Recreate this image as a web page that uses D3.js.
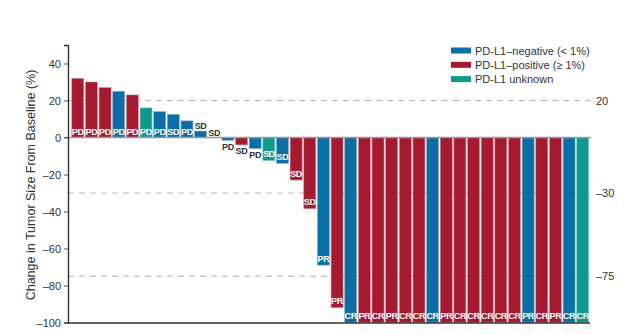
<!DOCTYPE html>
<html><head><meta charset="utf-8">
<script src="https://cdn.jsdelivr.net/npm/d3@7"></script>
<style>
body{margin:0;background:#fff;}
svg{display:block;font-family:"Liberation Sans",Arial,sans-serif;}
</style></head>
<body>
<svg id="c" width="624" height="335"></svg>
<script>
// ---- data ----
const responses = ["PD","PD","PD","PD","PD","PD","PD","SD","PD","SD","SD",
  "PD","SD","PD","SD","SD","SD","SD","PR","PR",
  "CR","PR","CR","PR","CR","CR","CR","PR","CR","CR","CR","CR","CR","PR","CR","PR","CR","CR"];
const pdl1Status = ["pos","pos","pos","neg","pos","unk","neg","neg","neg","neg","neg",
  "neg","pos","neg","unk","neg","pos","pos","neg","pos",
  "neg","pos","pos","pos","pos","pos","neg","pos","pos","pos","pos","pos","pos","neg","pos","pos","neg","unk"];
const changePct = [32,30,27,25,23,16,14,12.5,9,3.5,0,
  -1.5,-4,-6,-12.5,-14,-23,-38.5,-69,-92,
  -100,-100,-100,-100,-100,-100,-100,-100,-100,-100,-100,-100,-100,-100,-100,-100,-100,-100];
const yTicks = [40,20,0,-20,-40,-60,-80,-100];
const refLines = [20,-30,-75];
const legendKeys = ["neg","pos","unk"];
const legendLabels = ["PD-L1\u2013negative (< 1%)","PD-L1\u2013positive (\u2265 1%)","PD-L1 unknown"];
const yTitle = "Change in Tumor Size From Baseline (%)";

// ---- chart ----
const colors = {neg:"#0a6fa6", pos:"#a6192e", unk:"#0b9a8c"};
const strokes = {neg:"#7fb3d3", pos:"#d98a97", unk:"#7fd0c8"};
const svg = d3.select("#c");
const idx = d3.range(changePct.length);
const x = d3.scaleBand().domain(idx).range([71.5, 589]).paddingInner(0.12).paddingOuter(0.02);
const y = d3.scaleLinear().domain([-100, 50]).range([322.5, 45]);
const fmt = d => (d < 0 ? "\u2013" + Math.abs(d) : String(d));

// reference dashed lines (behind bars)
svg.append("g").selectAll("line").data(refLines).join("line")
  .attr("x1", 68).attr("x2", 590)
  .attr("y1", d => y(d)).attr("y2", d => y(d))
  .attr("stroke", "#b5b5b5").attr("stroke-width", 1.2).attr("stroke-dasharray", "6,5");
svg.append("g").selectAll("text").data(refLines).join("text")
  .attr("x", 596).attr("y", d => y(d) + 4)
  .attr("font-size", 11).attr("fill", "#333").text(fmt);

// bars
svg.append("g").selectAll("rect").data(idx).join("rect")
  .attr("x", i => x(i))
  .attr("width", x.bandwidth())
  .attr("y", i => y(Math.max(0, changePct[i])))
  .attr("height", i => Math.abs(y(changePct[i]) - y(0)))
  .attr("fill", i => colors[pdl1Status[i]])
  .attr("stroke", i => strokes[pdl1Status[i]])
  .attr("stroke-width", 0.6);

// zero line
svg.append("line").attr("x1", 64).attr("x2", 591)
  .attr("y1", y(0)).attr("y2", y(0))
  .attr("stroke", "#9a9a9a").attr("stroke-width", 1.6);

// bottom line
svg.append("line").attr("x1", 67.5).attr("x2", 590)
  .attr("y1", y(-100)+0.5).attr("y2", y(-100)+0.5)
  .attr("stroke", "#333").attr("stroke-width", 1.4);

// y axis
const yAxis = d3.axisLeft(y).tickValues(yTicks).tickSize(4).tickPadding(3).tickFormat(fmt);
const ga = svg.append("g").attr("transform", "translate(68,0)").call(yAxis);
ga.select(".domain").attr("stroke", "#333").attr("stroke-width", 1.4);
ga.selectAll(".tick line").attr("stroke", "#555");
ga.selectAll(".tick text").attr("font-size", 11).attr("fill", "#333")
  .attr("font-family", "Liberation Sans, Arial, sans-serif");

// y title
svg.append("text")
  .attr("transform", "translate(35," + 185 + ") rotate(-90)")
  .attr("text-anchor", "middle").attr("font-size", 12.5).attr("fill", "#333")
  .text(yTitle);

// bar labels
const minInside = 14;
svg.append("g").selectAll("text").data(idx).join("text")
  .attr("x", i => x(i) + x.bandwidth() / 2)
  .attr("y", i => {
    const v = changePct[i];
    const h = Math.abs(y(v) - y(0));
    if (v >= 0) return h >= minInside ? y(0) - 2.5 : y(v) - 2;
    return h >= minInside ? y(v) - 3.5 : y(v) + 9.5;
  })
  .attr("text-anchor", "middle").attr("font-size", 9).attr("font-weight", "bold")
  .attr("letter-spacing", -0.3)
  .attr("fill", i => Math.abs(y(changePct[i]) - y(0)) >= minInside ? "#fff" : "#333")
  .text(i => responses[i]);

// legend
const lg = svg.append("g").attr("transform", "translate(451,0)");
legendKeys.forEach((k, j) => {
  const cy = 50.5 + j * 14.3;
  lg.append("rect").attr("x", 0).attr("y", cy - 3).attr("width", 20).attr("height", 6)
    .attr("fill", colors[k]);
  lg.append("text").attr("x", 24).attr("y", cy + 4).attr("font-size", 11).attr("fill", "#333")
    .text(legendLabels[j]);
});
</script>
</body></html>
